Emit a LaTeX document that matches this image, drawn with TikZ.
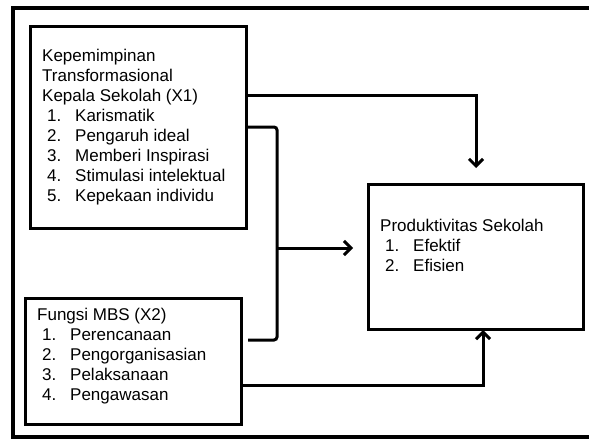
\documentclass[tikz,border=0pt]{standalone}
\usepackage{fontspec}
\setmainfont{Liberation Sans}
\usetikzlibrary{arrows.meta,calc}
\begin{document}
\begin{tikzpicture}[x=1pt,y=-1pt,
  outerframe/.style={line width=3.2pt},
  box/.style={draw,line width=3pt,rectangle,anchor=north west,inner sep=0pt},
  txt/.style={anchor=base west,inner sep=0pt,font=\fontsize{17}{20}\selectfont,text=black},
  wire/.style={line width=3pt},
  tip/.style={-{Straight Barb[length=7pt,width=14pt]}},
  bracket/.style={line width=3pt,rounded corners=3pt}]
\useasboundingbox (0,0) rectangle (589,439);
% outer frame (open on the right)
\draw[outerframe] (589,8) -| (13,437) -- (589,437);
% boxes
\node[box,minimum width=216pt,minimum height=202pt] (b1) at (29,25) {};
\node[box,minimum width=216pt,minimum height=126pt] (b2) at (24,297) {};
\node[box,minimum width=215pt,minimum height=145pt] (b3) at (367,183) {};
% texts
\newcommand{\itm}[2]{\hspace*{5pt}\makebox[28pt][l]{#1}#2}
\node[txt] (t1) at (42,61) {\begin{tabular}[t]{@{}l@{}}Kepemimpinan\\Transformasional\\Kepala Sekolah (X1)\\
\itm{1.}{Karismatik}\\\itm{2.}{Pengaruh ideal}\\\itm{3.}{Memberi Inspirasi}\\\itm{4.}{Stimulasi intelektual}\\\itm{5.}{Kepekaan individu}\end{tabular}};
\node[txt] (t2) at (37,320) {\begin{tabular}[t]{@{}l@{}}Fungsi MBS (X2)\\
\itm{1.}{Perencanaan}\\\itm{2.}{Pengorganisasian}\\\itm{3.}{Pelaksanaan}\\\itm{4.}{Pengawasan}\end{tabular}};
\node[txt] (t3) at (380,231) {\begin{tabular}[t]{@{}l@{}}Produktivitas Sekolah\\
\itm{1.}{Efektif}\\\itm{2.}{Efisien}\end{tabular}};
% connectors
\coordinate (top) at (476,95);
\coordinate (bt) at (483,385);
\coordinate (brA) at (277,127);
\coordinate (brB) at (277,340);
\coordinate (mid) at (277,248);
\draw[wire,tip,shorten >=15pt] (b1.east |- top) -- (top) -- (top |- b3.north);
\draw[bracket] (b1.east |- brA) -- (brA) -- (brB) -- (b1.east |- brB);
\draw[wire,tip,shorten >=14pt] (mid) -- (mid -| b3.west);
\draw[wire,tip,shorten >=-1pt] (b2.east |- bt) -- (bt) -- (bt |- b3.south);
\end{tikzpicture}
\end{document}
